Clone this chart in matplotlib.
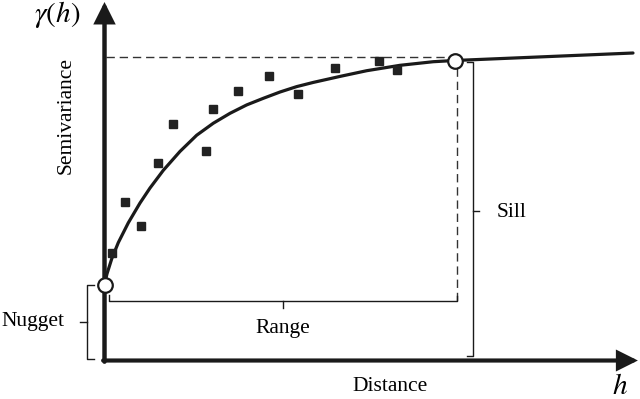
import matplotlib
matplotlib.use("Agg")
import matplotlib.pyplot as plt

plt.rcParams['font.family'] = 'Liberation Serif'
plt.rcParams['mathtext.fontset'] = 'stix'

# Empirical semivariance (lag distance, gamma)
lag = [0.22, 0.59, 1.04, 1.54, 1.95, 2.89, 3.11, 3.81, 4.69, 5.52, 6.59, 7.85, 8.36]
gamma = [0.36, 0.53, 0.45, 0.66, 0.79, 0.70, 0.84, 0.90, 0.95, 0.89, 0.976, 0.998, 0.968]

# Fitted model
model_lag = [0.0, 0.071, 0.206, 0.394, 0.680, 1.014, 1.300, 1.680, 2.157, 2.634, 3.109,
             3.586, 4.063, 4.537, 5.014, 5.491, 5.966, 6.729, 7.491, 8.443, 9.394,
             10.0, 15.1]
model_gamma = [0.253, 0.289, 0.339, 0.393, 0.459, 0.525, 0.575, 0.634, 0.697, 0.751,
               0.791, 0.824, 0.852, 0.874, 0.895, 0.913, 0.927, 0.947, 0.966, 0.984,
               0.996, 1.0, 1.025]

nugget = 0.253
sill = 1.0
rng = 10.0

fig = plt.figure(figsize=(6.4, 3.99), dpi=100)
ax = fig.add_axes([0, 0, 1, 1])
ax.set_xlim(-2.986, 15.3)
ax.set_ylim(-0.1283, 1.2017)
ax.set_axis_off()

ink = '#1a1a1a'

# axes with arrows
ax.annotate('', xy=(0, 1.195), xytext=(0, -0.004),
            arrowprops=dict(arrowstyle='-|>,head_length=11,head_width=5.5', lw=3.2,
                            color=ink, shrinkA=0, shrinkB=0, mutation_scale=1,
                            joinstyle='miter'))
ax.annotate('', xy=(15.24, 0), xytext=(-0.04, 0),
            arrowprops=dict(arrowstyle='-|>,head_length=11,head_width=5.5', lw=3.0,
                            color=ink, shrinkA=0, shrinkB=0, mutation_scale=1,
                            joinstyle='miter'))

# sill dashed line and range dashed line
ax.plot([0.05, 9.85], [1.012, 1.012], ls=(0, (6, 3.5)), lw=1.0, color='#333333')
ax.plot([rng + 0.06, rng + 0.06], [0.975, 0.20], ls=(0, (6, 3.5)), lw=1.0, color='#333333')

# model curve and points
ax.plot(model_lag, model_gamma, color=ink, lw=2.3, zorder=3,
        solid_joinstyle='round', solid_capstyle='round')
ax.plot(lag, gamma, ls='none', marker='s', ms=6.2, color='#222222', zorder=4)
ax.plot([0, rng], [nugget, sill], ls='none', marker='o', ms=10.5,
        mfc='white', mec=ink, mew=1.6, zorder=5)

blw = 1.0
# range bracket
ax.plot([0.137, 0.137, rng + 0.06, rng + 0.06], [0.218, 0.199, 0.199, 0.215],
        color=ink, lw=blw)
ax.plot([5.11, 5.11], [0.199, 0.175], color=ink, lw=blw)
ax.text(5.1, 0.108, 'Range', ha='center', va='center', fontsize=15.5)

# sill bracket
ax.plot([10.35, 10.53, 10.53, 10.35], [0.995, 0.995, 0.015, 0.015], color=ink, lw=blw)
ax.plot([10.53, 10.71], [0.50, 0.50], color=ink, lw=blw)
ax.text(11.63, 0.495, 'Sill', ha='center', va='center', fontsize=15.5)

# nugget bracket
ax.plot([-0.30, -0.491, -0.491, -0.30], [nugget, nugget, 0.004, 0.004], color=ink, lw=blw)
ax.plot([-0.491, -0.70], [0.129, 0.129], color=ink, lw=blw)
ax.text(-2.043, 0.129, 'Nugget', ha='center', va='center', fontsize=15.5)

# labels
ax.text(-1.357, 1.152, r'$\gamma(h)$', ha='center', va='center', fontsize=21)
ax.text(-1.109, 0.818, 'Semivariance', ha='center', va='center', rotation=90, fontsize=15.5)
ax.text(8.157, -0.085, 'Distance', ha='center', va='center', fontsize=15.5)
ax.text(14.73, -0.088, r'$h$', ha='center', va='center', fontsize=21)

fig.savefig('out.png', dpi=100)
